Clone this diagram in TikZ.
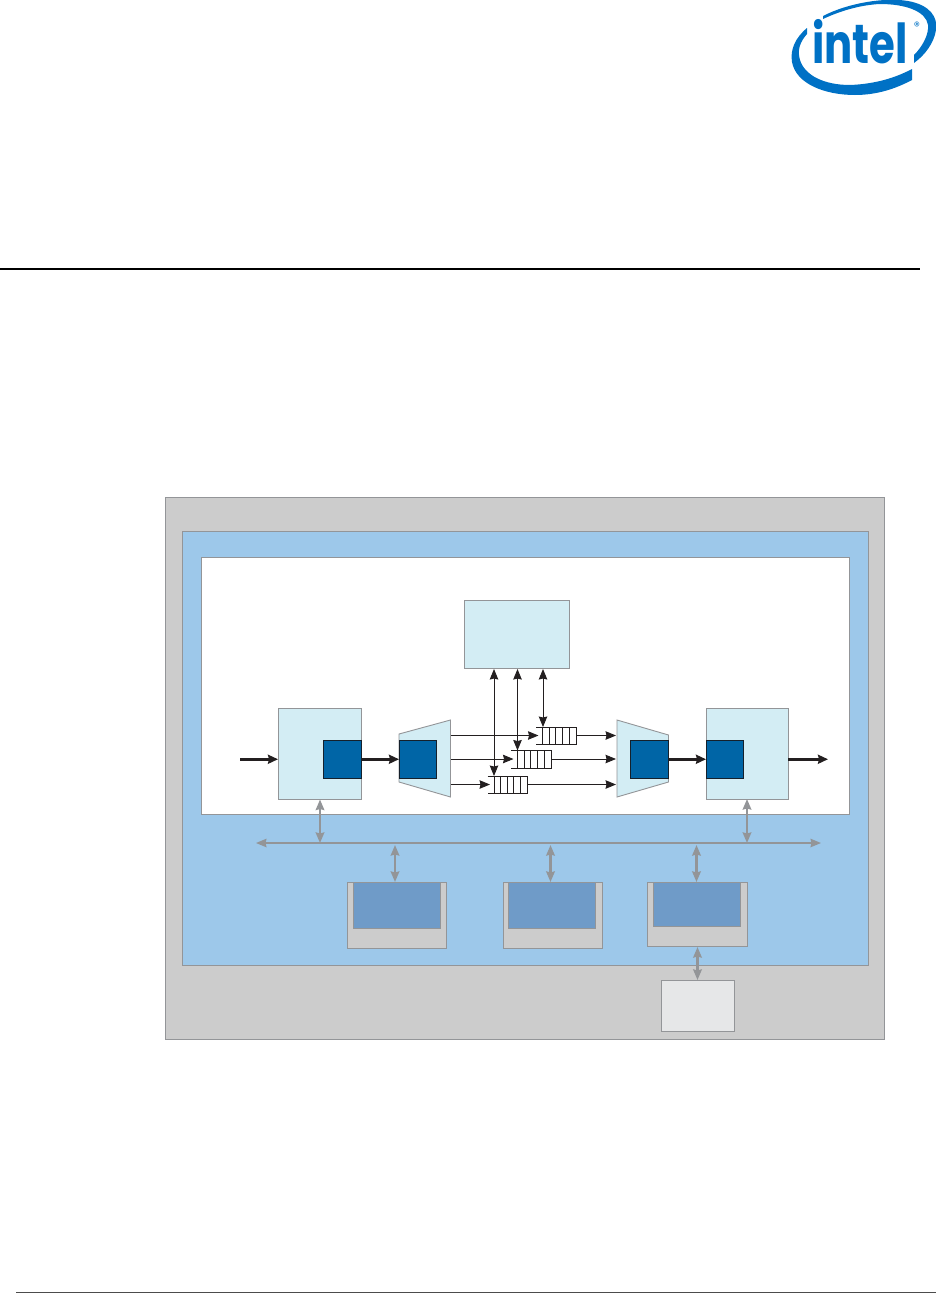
\documentclass[tikz,border=0pt]{standalone}
\usepackage{fontspec}
\usepackage{tikz}
\usetikzlibrary{arrows.meta,positioning,calc}
\newfontfamily\logofont{Poppins}
\definecolor{shellgray}{HTML}{CCCCCC}
\definecolor{edgegray}{HTML}{939598}
\definecolor{fabricblue}{HTML}{9DC8EA}
\definecolor{memblue}{HTML}{6F9BC8}
\definecolor{pipecyan}{HTML}{D3EDF4}
\definecolor{portblue}{HTML}{0065A6}
\definecolor{portedge}{HTML}{15202B}
\definecolor{hostgray}{HTML}{E6E7E8}
\definecolor{logoblue}{HTML}{0071C5}
\definecolor{inkblack}{HTML}{231F20}
\begin{document}
\begin{tikzpicture}[
  x=1pt, y=-1pt,
  >={Stealth[length=10.5pt, width=8.5pt, inset=1pt]},
  region/.style={rectangle, draw=edgegray, line width=0.9pt, inner sep=0pt,
                 outer sep=0pt, anchor=north west},
  shell/.style={region, fill=shellgray},
  fabric/.style={region, fill=fabricblue},
  pipe/.style={region, fill=white},
  block/.style={region, fill=pipecyan},
  port/.style={rectangle, draw=portedge, fill=portblue, line width=0.9pt,
               inner sep=0pt, outer sep=0pt, minimum width=37.5pt,
               minimum height=37.5pt, anchor=north west},
  qslot/.style={rectangle, inner sep=0pt, outer sep=0pt, anchor=north west,
                minimum width=40pt},
  data/.style={->, draw=inkblack, line width=0.9pt},
  datab/.style={<->, draw=inkblack, line width=0.9pt},
  link/.style={->, draw=inkblack, line width=2.6pt,
               >={Stealth[length=10pt, width=9pt, inset=1pt]}},
  bus/.style={<->, draw=edgegray, line width=2.3pt},
  mem/.style={region, fill=memblue}
]
\useasboundingbox (0,0) rectangle (936,1293);

% ---------- Page furniture ----------
\draw[black, line width=1.8pt] (0,269) -- (920,269);
\draw[black!70, line width=0.8pt] (16,1292.5) -- (936,1292.5);

% ---------- Logo ----------
\node[anchor=base west, inner sep=0pt, text=logoblue, font=\logofont\bfseries\fontsize{55}{55}\selectfont] (logotext) at (812,63) {\scalebox{0.76}[1]{intel}};
\node[anchor=center, inner sep=0pt, text=logoblue, font=\logofont\fontsize{12}{12}\selectfont] (logomark) at (917,26) {®};
\fill[logoblue] (823,16) .. controls (848,3) and (885,-3) .. (908,1)
  .. controls (930,5) and (938,17) .. (936,30)
  .. controls (934,43) and (925,55) .. (914,63) -- (914,55)
  .. controls (922,47) and (929,35) .. (928,25)
  .. controls (926,11) and (905,4) .. (880,4)
  .. controls (860,5) and (840,11) .. (823,19) -- cycle;
\fill[logoblue] (807,28) .. controls (795,38) and (790,50) .. (792,62)
  .. controls (796,84) and (825,95) .. (855,95)
  .. controls (878,95) and (897,88) .. (912,80) -- (912,69)
  .. controls (895,78) and (875,84) .. (850,85)
  .. controls (825,85) and (805,76) .. (800,60)
  .. controls (797,50) and (800,42) .. (807,34) -- cycle;

% ---------- Nested regions ----------
\node[shell, minimum width=719.5pt, minimum height=542.5pt] (chip) at (165,497) {};
\node[fabric, minimum width=686pt, minimum height=434pt] (fpga) at (182,531) {};
\node[pipe, minimum width=648pt, minimum height=257pt] (fabrictop) at (201,557) {};

% ---------- Pipeline blocks ----------
\node[block, minimum width=105.5pt, minimum height=68.5pt] (sched) at (464,600) {};
\node[block, minimum width=83pt, minimum height=91pt] (rxblock) at (278,708) {};
\node[block, minimum width=82pt, minimum height=91pt] (txblock) at (706,708) {};

\draw[draw=edgegray, line width=0.9pt, fill=pipecyan]
  (399,734) -- (450.5,720) -- (450.5,797) -- (399,782) -- cycle;
\draw[draw=edgegray, line width=0.9pt, fill=pipecyan]
  (617,720) -- (668.5,735) -- (668.5,782) -- (617,797) -- cycle;

\node[port] (rxout) at (323.5,740.5) {};
\node[port] (demuxin) at (399,740.5) {};
\node[port] (muxout) at (630.5,740.5) {};
\node[port] (txin) at (706,740.5) {};

% ---------- Queues ----------
\foreach \qname/\qx/\qy/\qh in {qtop/536/727/17, qmid/511/750.5/18, qlow/487.5/776/17} {
  \node[qslot, minimum height=\qh pt] (\qname) at (\qx,\qy) {};
  \draw[inkblack, line width=0.9pt] (\qname.north west) -- (\qname.north east)
    -- (\qname.south east) -- (\qname.south west);
  \foreach \slot in {1,...,5}
    \draw[inkblack, line width=0.9pt]
      ($(\qname.north west)+(\slot*6.6,0)$) -- ($(\qname.south west)+(\slot*6.6,0)$);
}

% ---------- Data paths ----------
\coordinate (rxin) at (240,759.25);
\coordinate (txoutend) at (828,759.25);
\draw[link] (rxin) -- (rxblock.west |- rxin);
\draw[link] (rxout.east) -- (demuxin.west);
\draw[link] (muxout.east) -- (txin.west);
\draw[link] (txblock.east |- txoutend) -- (txoutend);

\coordinate (demuxa) at (451,735.5);
\coordinate (demuxb) at (451,759);
\coordinate (demuxc) at (451,784.5);
\coordinate (muxa) at (616,735.5);
\coordinate (muxb) at (616,759);
\coordinate (muxc) at (616,784.5);
\draw[data] (demuxa) -- ($(qtop.west |- demuxa)+(2.5,0)$);
\draw[data] (demuxb) -- ($(qmid.west |- demuxb)+(2.5,0)$);
\draw[data] (demuxc) -- ($(qlow.west |- demuxc)+(2.5,0)$);
\draw[data] (qtop.east |- muxa) -- (muxa);
\draw[data] (qmid.east |- muxb) -- (muxb);
\draw[data] (qlow.east |- muxc) -- (muxc);

\coordinate (scha) at (494,669);
\coordinate (schb) at (517.5,669);
\coordinate (schc) at (543,669);
\draw[datab] (scha) -- (scha |- qlow.north);
\draw[datab] (schb) -- (schb |- qmid.north);
\draw[datab] (schc) -- (schc |- qtop.north);

% ---------- Memories ----------
\node[shell, minimum width=99pt, minimum height=66pt] (mema) at (347.5,882) {};
\node[mem, minimum width=87pt, minimum height=46pt] (memacore) at (353,882) {};
\node[shell, minimum width=99.5pt, minimum height=66pt] (memb) at (503,882) {};
\node[mem, minimum width=87pt, minimum height=46pt] (membcore) at (508,882) {};
\node[shell, minimum width=99.5pt, minimum height=64.5pt] (memc) at (647.5,882) {};
\node[mem, minimum width=87pt, minimum height=44pt] (memccore) at (653,882) {};
\node[region, fill=hostgray, minimum width=73pt, minimum height=51pt] (host) at (661,980) {};

% ---------- Shared bus ----------
\coordinate (busl) at (256,843);
\coordinate (busr) at (821,843);
\draw[bus, line width=1.5pt] (busl) -- (busr);
\coordinate (rxtap) at (320,799.5);
\draw[bus] (rxtap) -- (rxtap |- busl);
\draw[bus] (txblock.south) -- (txblock.south |- busl);
\coordinate (tapa) at (395,845);
\coordinate (tapb) at (550.5,845);
\coordinate (tapc) at (696.5,845);
\coordinate (hostlink) at (697.5,947);
\draw[bus] (tapa) -- (tapa |- mema.north);
\draw[bus] (tapb) -- (tapb |- memb.north);
\draw[bus] (tapc) -- (tapc |- memc.north);
\draw[bus] (hostlink) -- (hostlink |- host.north);

\end{tikzpicture}
\end{document}
